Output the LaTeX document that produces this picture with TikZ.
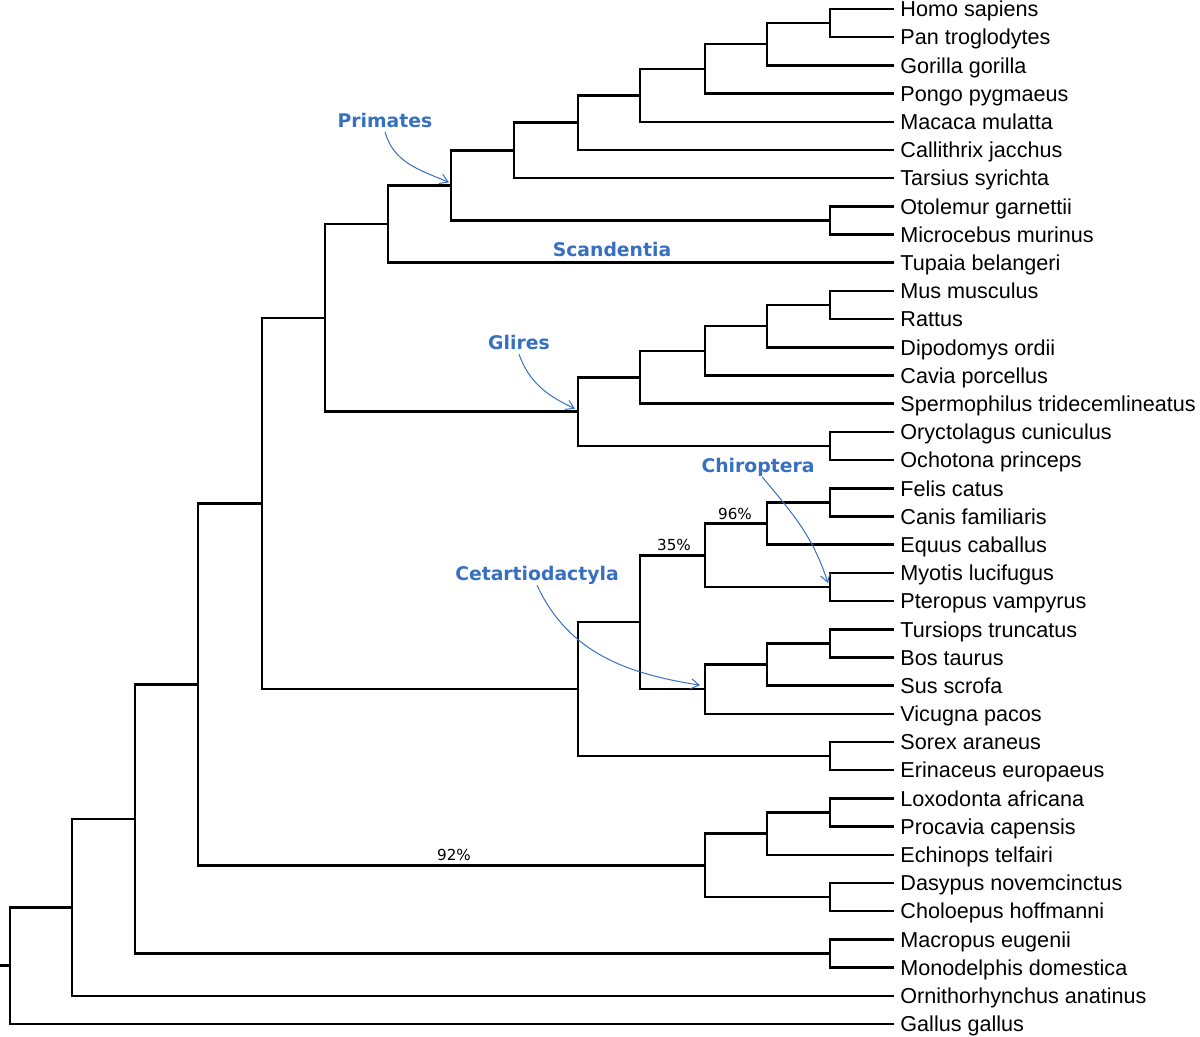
\documentclass[tikz,border=0pt]{standalone}
\usepackage{fontspec}
\setmainfont{Liberation Sans}
\newfontfamily\dejavu{DejaVu Sans}
\usetikzlibrary{arrows.meta}
\definecolor{ink}{RGB}{0,0,0}
\definecolor{clade}{RGB}{55,112,192}
\tikzset{
  br/.style={draw=ink,line width=1.25pt},
  leaf/.style={anchor=west,inner xsep=3pt,inner ysep=0pt,text height=7.75pt,text depth=0pt,
    font=\fontsize{10.8}{12}\selectfont},
  cladelbl/.style={text=clade,inner sep=2pt,text height=6.85pt,text depth=0pt,
    font=\dejavu\bfseries\fontsize{9.4}{11}\selectfont},
  pct/.style={inner sep=0pt,text height=5.55pt,text depth=0pt,font=\dejavu\fontsize{7.6}{9}\selectfont},
  tag/.style={-{Straight Barb[length=4pt,width=5pt]},draw=clade,line width=0.5pt},
}

\begin{document}
\begin{tikzpicture}[x=0.5pt,y=-0.5pt]
\useasboundingbox (0,0) rectangle (1200,1037);
% leaves
\foreach \nm [count=\i from 0] in {Homo sapiens,Pan troglodytes,Gorilla gorilla,Pongo pygmaeus,
  Macaca mulatta,Callithrix jacchus,Tarsius syrichta,Otolemur garnettii,Microcebus murinus,
  Tupaia belangeri,Mus musculus,Rattus,Dipodomys ordii,Cavia porcellus,
  Spermophilus tridecemlineatus,Oryctolagus cuniculus,Ochotona princeps,Felis catus,
  Canis familiaris,Equus caballus,Myotis lucifugus,Pteropus vampyrus,Tursiops truncatus,
  Bos taurus,Sus scrofa,Vicugna pacos,Sorex araneus,Erinaceus europaeus,Loxodonta africana,
  Procavia capensis,Echinops telfairi,Dasypus novemcinctus,Choloepus hoffmanni,
  Macropus eugenii,Monodelphis domestica,Ornithorhynchus anatinus,Gallus gallus}
  \node[leaf] (l\i) at (894,{9+28.194*\i}) {\nm};
% internal nodes
\coordinate (hs) at (830,23.1);   \coordinate (hg) at (767,44.2);
\coordinate (hp) at (705,68.9);   \coordinate (ca) at (640,95.3);
\coordinate (an) at (578,122.7);  \coordinate (ha) at (514,150.4);
\coordinate (st) at (830,220.5);  \coordinate (pri) at (451,185.4);
\coordinate (eua) at (388,224.1);
\coordinate (r1) at (830,305.0);  \coordinate (r2) at (767,326.2);
\coordinate (r3) at (705,350.9);  \coordinate (r4) at (640,377.3);
\coordinate (lag) at (830,446.0); \coordinate (gli) at (578,411.7);
\coordinate (eag) at (325,317.9);
\coordinate (car) at (830,502.4); \coordinate (zeg) at (767,523.5);
\coordinate (chi) at (830,587.0); \coordinate (n96) at (705,555.3);
\coordinate (tb) at (830,643.4);  \coordinate (ru) at (767,664.5);
\coordinate (cet) at (705,689.2); \coordinate (n35) at (640,622.2);
\coordinate (eul) at (830,756.2); \coordinate (lau) at (578,689.2);
\coordinate (bor) at (262,503.5);
\coordinate (lp) at (830,812.5);  \coordinate (afr) at (767,833.7);
\coordinate (xen) at (830,897.1); \coordinate (atl) at (705,865.4);
\coordinate (eut) at (198,684.5); \coordinate (mar) at (830,953.5);
\coordinate (the) at (135,819.0); \coordinate (mam) at (72,907.4);
\coordinate (root) at (10,965.7); \coordinate (stub) at (0,965.7);
% branches
\foreach \p/\c in {hs/l0,hs/l1,hg/hs,hg/l2,hp/hg,hp/l3,ca/hp,ca/l4,an/ca,an/l5,ha/an,ha/l6,
  st/l7,st/l8,pri/ha,pri/st,eua/pri,eua/l9,
  r1/l10,r1/l11,r2/r1,r2/l12,r3/r2,r3/l13,r4/r3,r4/l14,lag/l15,lag/l16,gli/r4,gli/lag,
  eag/eua,eag/gli,
  car/l17,car/l18,zeg/car,zeg/l19,chi/l20,chi/l21,n96/zeg,n96/chi,
  tb/l22,tb/l23,ru/tb,ru/l24,cet/ru,cet/l25,n35/n96,n35/cet,eul/l26,eul/l27,lau/n35,lau/eul,
  bor/eag,bor/lau,
  lp/l28,lp/l29,afr/lp,afr/l30,xen/l31,xen/l32,atl/afr,atl/xen,eut/bor,eut/atl,
  mar/l33,mar/l34,the/eut,the/mar,mam/the,mam/l35,root/mam,root/l36}
  \draw[br] (\p) |- (\c);
\draw[br] (stub) -- (root);
% support values
\node[pct] (s96) at (735,513.5) {96\%};
\node[pct] (s35) at (674,545) {35\%};
\node[pct] (s92) at (454,855) {92\%};
% clade labels
\node[cladelbl] (lpri) at (385,120.5) {Primates};
\node[cladelbl] (lsca) at (612,250) {Scandentia};
\node[cladelbl] (lgli) at (519,343) {Glires};
\node[cladelbl] (lchi) at (758,465.5) {Chiroptera};
\node[cladelbl] (lcet) at (537,574) {Cetartiodactyla};
\draw[tag] (lpri.south) to[out=-75,in=157] ([shift={(-2,-3)}]pri);
\draw[tag] (lgli.south) to[out=-70,in=155] ([shift={(-3,-3)}]gli);
\draw[tag] ([xshift=2pt]lchi.south) to[out=-50,in=108] ([shift={(-2,-4)}]chi);
\draw[tag] (lcet.south) to[out=-65,in=171] ([shift={(-5,-4)}]cet);
\end{tikzpicture}
\end{document}
